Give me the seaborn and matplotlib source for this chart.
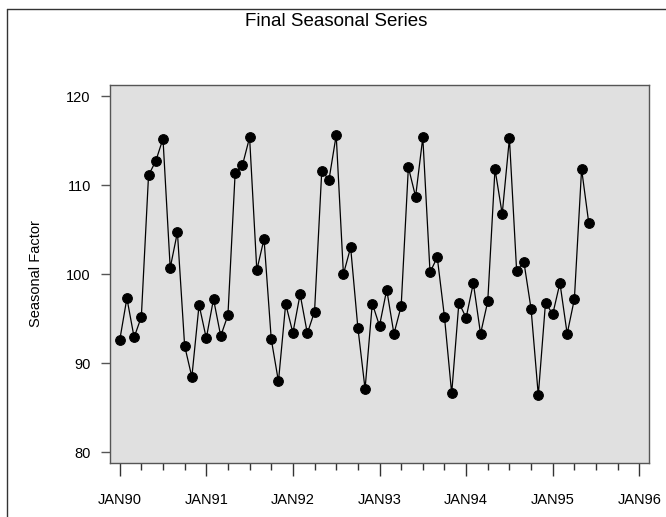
import numpy as np
import pandas as pd
import matplotlib
matplotlib.use("Agg")
import matplotlib.pyplot as plt
from matplotlib.lines import Line2D
import seaborn as sns

# ---- data ----
start_year = 1990
seasonal = [
    92.55, 97.3, 92.9, 95.2, 111.1, 112.7, 115.2, 100.7, 104.7, 91.95, 88.45, 96.55,
    92.8, 97.2, 93.05, 95.4, 111.4, 112.2, 115.35, 100.45, 103.95, 92.7, 87.95, 96.65,
    93.4, 97.75, 93.35, 95.8, 111.6, 110.6, 115.6, 100.0, 103.0, 94.0, 87.1, 96.7,
    94.2, 98.25, 93.3, 96.4, 112.0, 108.7, 115.35, 100.2, 101.9, 95.2, 86.6, 96.8,
    95.1, 99.0, 93.3, 96.95, 111.8, 106.75, 115.25, 100.35, 101.4, 96.1, 86.4, 96.8,
    95.5, 99.0, 93.3, 97.2, 111.8, 105.7,
]
tick_labels = ["JAN90", "JAN91", "JAN92", "JAN93", "JAN94", "JAN95", "JAN96"]
y_ticks = [80, 90, 100, 110, 120]

df = pd.DataFrame({"month": np.arange(len(seasonal)), "factor": seasonal})

sns.set_style("white")
plt.rcParams["font.family"] = ["Liberation Sans", "DejaVu Sans"]
plt.rcParams["text.color"] = "black"
plt.rcParams["axes.labelcolor"] = "black"
plt.rcParams["xtick.color"] = "black"
plt.rcParams["ytick.color"] = "black"

W, H = 666, 517
fig = plt.figure(figsize=(W / 100, H / 100), dpi=100)
left, right, top, bottom = 109.5, 648.5, 84.7, 463.3
ax = fig.add_axes([left / W, 1 - bottom / H, (right - left) / W, (bottom - top) / H])
ax.set_facecolor("#e0e0e0")

sns.lineplot(data=df, x="month", y="factor", ax=ax, color="black", linewidth=0.9,
             marker="o", markersize=7, markeredgecolor="black", markerfacecolor="black")

ax.set_xlim(-1.41, 73.27)
ax.set_ylim(78.76, 121.27)

ax.set_xticks(np.arange(0, 12 * len(tick_labels), 12))
ax.set_xticklabels(tick_labels)
ax.set_xticks(np.arange(0, 73, 3), minor=True)
ax.set_yticks(y_ticks)
ax.set_yticklabels([str(v) for v in y_ticks])

ax.tick_params(axis="x", which="major", direction="out", length=9.5, width=1.0,
               color="#333333", labelcolor="black", pad=12, labelsize=10.5, bottom=True)
ax.tick_params(axis="x", which="minor", direction="out", length=5, width=1.0,
               color="#333333", bottom=True)
ax.tick_params(axis="y", which="major", direction="out", length=6.5, width=1.0,
               color="#555555", labelcolor="black", pad=7, labelsize=10.5, left=True)

for s in ax.spines.values():
    s.set_color("#555555")
    s.set_linewidth(1.0)

ax.set_xlabel("")
ax.set_ylabel("Seasonal Factor", fontsize=10.5, labelpad=17, color="black")

fig.text(336 / W, 1 - 22 / H, "Final Seasonal Series", ha="center", va="center",
         fontsize=13.5, color="black")

# outer frame (left and top visible)
fig.add_artist(Line2D([7 / W, 7 / W], [0, 1 - 9 / H], transform=fig.transFigure,
                      color="#333333", linewidth=1.0))
fig.add_artist(Line2D([7 / W, 1], [1 - 9 / H, 1 - 9 / H], transform=fig.transFigure,
                      color="#333333", linewidth=1.0))

fig.savefig("out.png", dpi=100)
